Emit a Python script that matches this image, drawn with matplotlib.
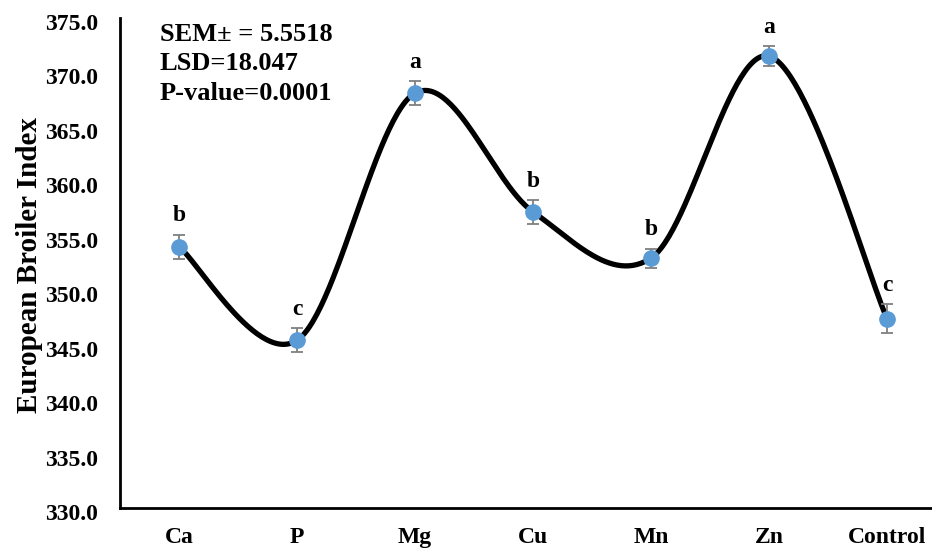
import numpy as np
import matplotlib
matplotlib.use("Agg")
import matplotlib.pyplot as plt
import matplotlib.transforms as mtransforms

plt.rcParams["font.family"] = "Liberation Serif"
plt.rcParams["font.weight"] = "bold"

# data
treatments = ["Ca", "P", "Mg", "Cu", "Mn", "Zn", "Control"]
ebi_means = [354.0, 345.4, 368.1, 357.2, 352.95, 371.5, 347.4]
ebi_err = [1.1, 1.1, 1.1, 1.1, 0.87, 0.9, 1.35]
letters = ["b", "c", "a", "b", "b", "a", "c"]
y_ticks = [330.0, 335.0, 340.0, 345.0, 350.0, 355.0, 360.0, 365.0, 370.0, 375.0]
stats_text = "SEM\u00b1 = 5.5518\nLSD=18.047\nP-value=0.0001"


def smooth_curve(xs, ys, n=60):
    # excel-like smoothed line (catmull-rom through the points)
    pts = np.column_stack([xs, ys]).astype(float)
    pts = np.vstack([pts[0], pts, pts[-1]])
    out = []
    t = np.linspace(0, 1, n)[:, None]
    for i in range(1, len(pts) - 2):
        p0, p1, p2, p3 = pts[i - 1], pts[i], pts[i + 1], pts[i + 2]
        c1 = p1 + (p2 - p0) / 6
        c2 = p2 - (p3 - p1) / 6
        seg = ((1 - t) ** 3) * p1 + 3 * ((1 - t) ** 2) * t * c1 \
            + 3 * (1 - t) * t ** 2 * c2 + t ** 3 * p2
        out.append(seg)
    out = np.vstack(out)
    return out[:, 0], out[:, 1]


fig = plt.figure(figsize=(9.32, 5.49), dpi=100)
ax = fig.add_axes([120 / 932, 1 - 508 / 549, 826 / 932, 490 / 549])

x = np.arange(len(treatments))
sx, sy = smooth_curve(x, ebi_means)
ax.plot(sx, sy, color="black", lw=3.8, zorder=2, solid_capstyle="round")
ax.errorbar(x, ebi_means, yerr=ebi_err, fmt="none", ecolor="#7f7f7f",
            elinewidth=1.3, capsize=4.5, capthick=1.3, zorder=3)
ax.plot(x, ebi_means, "o", color="#5b9bd5", ms=11, zorder=4)

for xi, m, e, lab in zip(x, ebi_means, ebi_err, letters):
    ax.annotate(lab, (xi, m + e), xytext=(0, 6), textcoords="offset points",
                ha="center", va="bottom", fontsize=17, fontweight="bold")

ax.set_xlim(-0.5, len(treatments) - 0.5)
ax.set_ylim(330, 375)
ax.set_yticks(y_ticks)
ax.set_yticklabels([f"{v:.1f}" for v in y_ticks], fontsize=17, fontweight="bold")
ax.set_xticks(x)
ax.set_xticklabels(treatments, fontsize=17, fontweight="bold")
ax.tick_params(axis="x", length=0, pad=14)
ax.tick_params(axis="y", length=0, pad=16)

# excel puts the value labels a touch below the gridline
shift = mtransforms.ScaledTranslation(0, -4 / 100, fig.dpi_scale_trans)
for lbl in ax.get_yticklabels():
    lbl.set_transform(lbl.get_transform() + shift)

for s in ["top", "right"]:
    ax.spines[s].set_visible(False)
for s in ["left", "bottom"]:
    ax.spines[s].set_linewidth(2)

ax.set_ylabel("European Broiler Index", fontsize=21, fontweight="bold")
ax.yaxis.set_label_coords(-0.093, 0.496)

ax.text(0.048, 0.99, stats_text, transform=ax.transAxes, ha="left", va="top",
        fontsize=19, fontweight="bold", linespacing=1.36)

fig.savefig("out.png", dpi=100)
